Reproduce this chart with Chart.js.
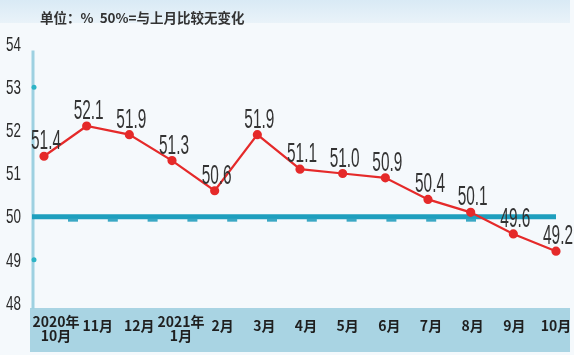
<!DOCTYPE html>
<html>
<head>
<meta charset="utf-8">
<script src="https://cdn.jsdelivr.net/npm/chart.js@4.4.0/dist/chart.umd.min.js"></script>
<style>
  html, body { margin: 0; padding: 0; background: #f5f9fc; }
  #wrap { width: 574px; height: 355px; }
</style>
</head>
<body>
<div id="wrap"><canvas id="pmi-chart" width="574" height="355"></canvas></div>
<script>
// categories and values
let months = [['2020年', '10月'], '11月', '12月', ['2021年', '1月'], '2月', '3月', '4月', '5月', '6月', '7月', '8月', '9月', '10月'];
let pmi = [51.4, 52.1, 51.9, 51.3, 50.6, 51.9, 51.1, 51.0, 50.9, 50.4, 50.1, 49.6, 49.2];
let yTicks = [48, 49, 50, 51, 52, 53, 54];
let baseLine = 50;
let unitNote = '单位：%  50%=与上月比较无变化';

// background bands, axis line, the 50 line
let decorPlugin = {
    id: 'decor',
    beforeDraw: function (chart) {
        let ctx = chart.ctx;
        let area = chart.chartArea;
        ctx.save();
        ctx.fillStyle = '#f5f9fc';
        ctx.fillRect(0, 0, chart.width, chart.height);
        let grad = ctx.createLinearGradient(0, 0, 0, 24);
        grad.addColorStop(0, '#d9eaf5');
        grad.addColorStop(1, '#eaf3f9');
        ctx.fillStyle = grad;
        ctx.fillRect(0, 0, chart.width - 4, 23);
        // x axis band
        ctx.fillStyle = '#a9d4e3';
        ctx.fillRect(30, area.bottom + 5, chart.width - 34, chart.height - area.bottom - 8);
        ctx.restore();
    },
    beforeDatasetsDraw: function (chart) {
        let ctx = chart.ctx;
        let area = chart.chartArea;
        let y = chart.scales.y;
        let x = chart.scales.x;
        let axisX = area.left - 11;
        ctx.save();
        // y axis line
        ctx.strokeStyle = '#9ed1e1';
        ctx.lineWidth = 3;
        ctx.beginPath();
        ctx.moveTo(axisX, y.getPixelForValue(53.85));
        ctx.lineTo(axisX, area.bottom + 6);
        ctx.stroke();
        // small dots on the axis
        ctx.fillStyle = '#2db4c6';
        [53, 49].forEach(function (v) {
            ctx.beginPath();
            ctx.arc(axisX + 1, y.getPixelForValue(v), 2.5, 0, Math.PI * 2);
            ctx.fill();
        });
        // y tick labels, tall and narrow
        ctx.fillStyle = '#2a2a2a';
        ctx.font = '21px "Liberation Sans"';
        ctx.textAlign = 'right';
        ctx.textBaseline = 'middle';
        y.ticks.forEach(function (t) {
            ctx.save();
            ctx.translate(21, y.getPixelForValue(t.value) + 1);
            ctx.scale(0.64, 1);
            ctx.fillText(String(t.value), 0, 0);
            ctx.restore();
        });
        // x tick labels, drifting a bit right of the points at the start
        ctx.fillStyle = '#1f1f1f';
        ctx.font = 'bold 14px "Noto Sans CJK SC"';
        ctx.textAlign = 'center';
        months.forEach(function (lab, i) {
            let px = x.getPixelForValue(i) + (12 - i);
            if (Array.isArray(lab)) {
                ctx.fillText(lab[0], px, area.bottom + 19);
                ctx.fillText(lab[1], px, area.bottom + 33);
            } else {
                ctx.fillText(lab, px, area.bottom + 23);
            }
        });
        // 50 reference line
        let yb = y.getPixelForValue(baseLine);
        ctx.strokeStyle = '#1e9fbe';
        ctx.lineWidth = 5;
        ctx.beginPath();
        ctx.moveTo(axisX - 1, yb);
        ctx.lineTo(area.right, yb);
        ctx.stroke();
        // little notches under the line
        ctx.fillStyle = '#3aa8c4';
        for (let i = 0; i < 11; i++) {
            let nx = area.left + 29 + i * 39.8;
            ctx.fillRect(nx - 5, yb + 2, 10, 3);
        }
        ctx.restore();
    },
    afterDraw: function (chart) {
        let ctx = chart.ctx;
        ctx.save();
        ctx.fillStyle = '#333333';
        ctx.font = 'bold 13.5px "Noto Sans CJK SC"';
        ctx.textBaseline = 'middle';
        ctx.fillText(unitNote, 40, 18);
        ctx.restore();
    }
};

// value labels above the points, tall narrow digits
let valueLabels = {
    id: 'valueLabels',
    afterDatasetsDraw: function (chart) {
        let ctx = chart.ctx;
        let meta = chart.getDatasetMeta(0);
        ctx.save();
        ctx.fillStyle = '#333333';
        ctx.font = '27px "Liberation Sans"';
        ctx.textAlign = 'center';
        ctx.textBaseline = 'alphabetic';
        meta.data.forEach(function (pt, i) {
            ctx.save();
            ctx.translate(pt.x + 2, pt.y - 7);
            ctx.scale(0.57, 1);
            ctx.fillText(pmi[i].toFixed(1), 0, 0);
            ctx.restore();
        });
        ctx.restore();
    }
};

let ctx = document.getElementById('pmi-chart').getContext('2d');
new Chart(ctx, {
    type: 'line',
    data: {
        labels: months,
        datasets: [{
            label: 'PMI',
            data: pmi,
            borderColor: '#e52a2a',
            backgroundColor: '#e52a2a',
            borderWidth: 2.2,
            pointRadius: 3.5,
            pointHoverRadius: 3.5,
            tension: 0
        }]
    },
    options: {
        responsive: false,
        animation: false,
        layout: { padding: { left: 0, right: 18, top: 44, bottom: 0 } },
        plugins: {
            legend: { display: false },
            tooltip: { enabled: false },
            title: { display: false }
        },
        scales: {
            x: {
                offset: false,
                grid: { display: false, drawTicks: false },
                border: { display: false },
                ticks: { display: false, autoSkip: false },
                afterFit: function (scale) { scale.height = 52; }
            },
            y: {
                min: 48,
                max: 54,
                afterBuildTicks: function (scale) {
                    scale.ticks = yTicks.map(function (v) { return { value: v }; });
                },
                grid: { display: false, drawTicks: false },
                border: { display: false },
                ticks: { display: false },
                afterFit: function (scale) { scale.width = 44; }
            }
        }
    },
    plugins: [decorPlugin, valueLabels]
});
</script>
</body>
</html>
